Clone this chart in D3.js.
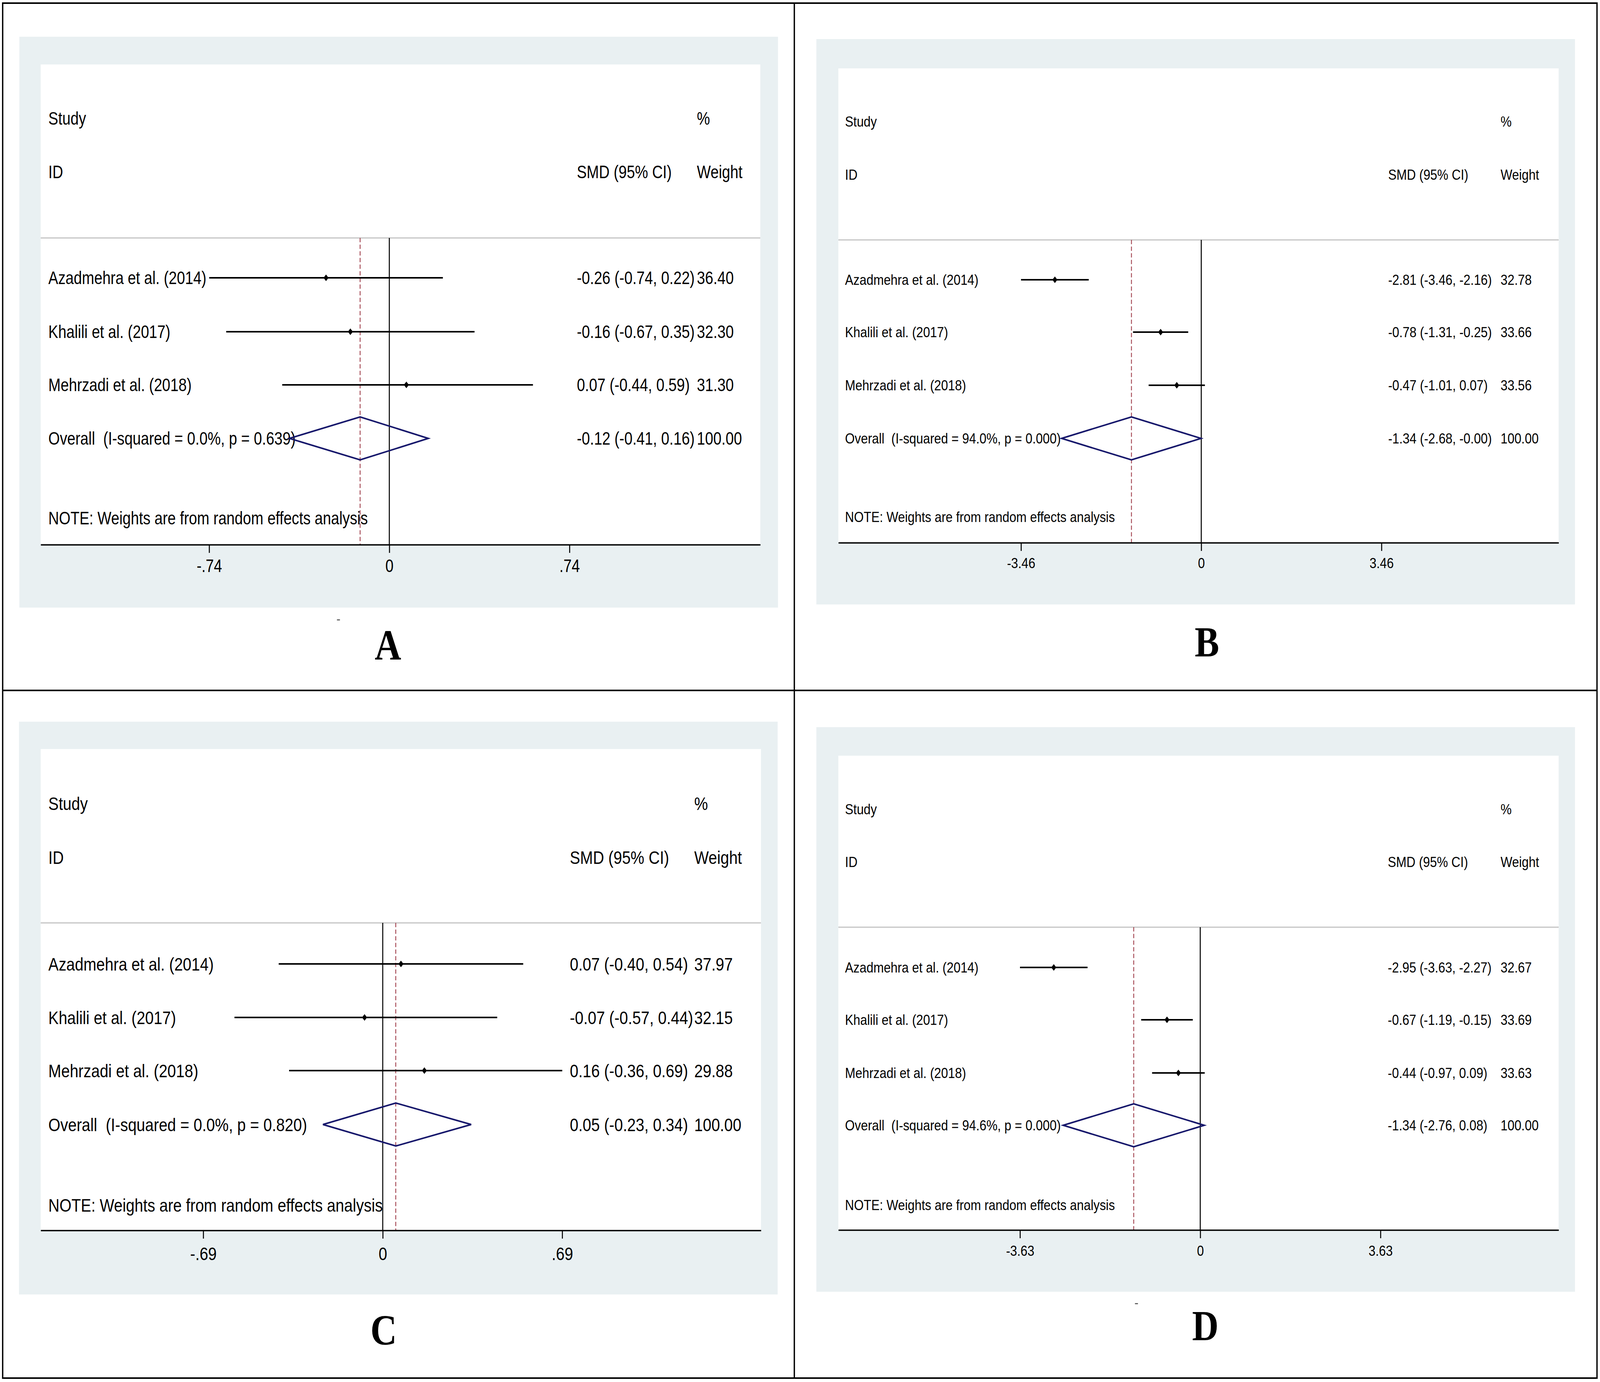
<!DOCTYPE html>
<html>
<head>
<meta charset="utf-8">
<script src="https://cdn.jsdelivr.net/npm/d3@7"></script>
<style>
  html, body { margin: 0; padding: 0; background: #ffffff; width: 100%; height: 100%; overflow: hidden; }
  svg { display: block; width: 100vw; height: 100vh; }
  text { font-family: "Liberation Sans", Arial, sans-serif; fill: #000; white-space: pre; }
</style>
</head>
<body>
<script>
// ---------------- DATA ----------------
const studies = ["Azadmehra et al. (2014)", "Khalili et al. (2017)", "Mehrzadi et al. (2018)"];
const panelLetters = ["A", "B", "C", "D"];

const smdA = [-0.26, -0.16, 0.07];
const loA  = [-0.74, -0.67, -0.44];
const hiA  = [0.22, 0.35, 0.59];
const wtA  = [36.40, 32.30, 31.30];
const overallA = [-0.12, -0.41, 0.16];
const i2A = 0.0, pA = 0.639;
const tickValsA = [-0.74, 0, 0.74];
const tickLabsA = ["-.74", "0", ".74"];

const smdB = [-2.81, -0.78, -0.47];
const loB  = [-3.46, -1.31, -1.01];
const hiB  = [-2.16, -0.25, 0.07];
const wtB  = [32.78, 33.66, 33.56];
const overallB = [-1.34, -2.68, -0.004];
const i2B = 94.0, pB = 0.000;
const tickValsB = [-3.46, 0, 3.46];
const tickLabsB = ["-3.46", "0", "3.46"];

const smdC = [0.07, -0.07, 0.16];
const loC  = [-0.40, -0.57, -0.36];
const hiC  = [0.54, 0.44, 0.69];
const wtC  = [37.97, 32.15, 29.88];
const overallC = [0.05, -0.23, 0.34];
const i2C = 0.0, pC = 0.820;
const tickValsC = [-0.69, 0, 0.69];
const tickLabsC = ["-.69", "0", ".69"];

const smdD = [-2.95, -0.67, -0.44];
const loD  = [-3.63, -1.19, -0.97];
const hiD  = [-2.27, -0.15, 0.09];
const wtD  = [32.67, 33.69, 33.63];
const overallD = [-1.34, -2.76, 0.08];
const i2D = 94.6, pD = 0.000;
const tickValsD = [-3.63, 0, 3.63];
const tickLabsD = ["-3.63", "0", "3.63"];

const headers = { study: "Study", id: "ID", smd: "SMD (95% CI)", pct: "%", weight: "Weight" };
const noteText = "NOTE: Weights are from random effects analysis";

// ---------------- LAYOUT ----------------
const W = 4796, H = 3537;
const layout = [
  { gx0: 58, gy0: 94, gx1: 2332, gy1: 1555, wx0: 122, wy0: 165, wx1: 2279, axisY: 1394, hdrY: 609,
    yStudy: 303, yID: 440, rowY: [711, 849, 985, 1122], yNote: 1326, yTick: 1448,
    textX: 145, smdX: 1729, wX: 2089, fs: 46, sx: 0.96, r0: 627, r1: 1707,
    letterX: 1163, letterY: 1688, mark: [1010, 1585] },
  { gx0: 2447, gy0: 100, gx1: 4721, gy1: 1547, wx0: 2513, wy0: 175, wx1: 4672, axisY: 1389, hdrY: 614,
    yStudy: 311, yID: 447, rowY: [716, 850, 986, 1122], yNote: 1323, yTick: 1441,
    textX: 2533, smdX: 4161, wX: 4498, fs: 37.3, sx: 1.0, r0: 3060.5, r1: 4141,
    letterX: 3618, letterY: 1680, mark: null },
  { gx0: 57, gy0: 1847, gx1: 2331, gy1: 3313, wx0: 122, wy0: 1917, wx1: 2281, axisY: 3149, hdrY: 2362,
    yStudy: 2056, yID: 2194, rowY: [2467, 2604, 2740, 2878], yNote: 3084, yTick: 3208,
    textX: 145, smdX: 1708, wX: 2081, fs: 46.2, sx: 1.0, r0: 609.3, r1: 1685.3,
    letterX: 1150, letterY: 3441, mark: null },
  { gx0: 2447, gy0: 1861, gx1: 4721, gy1: 3306, wx0: 2513, wy0: 1934, wx1: 4672, axisY: 3148, hdrY: 2373,
    yStudy: 2071, yID: 2206, rowY: [2476, 2610, 2746, 2880], yNote: 3084, yTick: 3201,
    textX: 2533, smdX: 4160, wX: 4498, fs: 37.3, sx: 1.0, r0: 3057.5, r1: 4138,
    letterX: 3613, letterY: 3430, mark: [3402, 3335] }
];

const datasets = [
  { smd: smdA, lo: loA, hi: hiA, wt: wtA, ov: overallA, i2: i2A, p: pA, tv: tickValsA, tl: tickLabsA },
  { smd: smdB, lo: loB, hi: hiB, wt: wtB, ov: overallB, i2: i2B, p: pB, tv: tickValsB, tl: tickLabsB },
  { smd: smdC, lo: loC, hi: hiC, wt: wtC, ov: overallC, i2: i2C, p: pC, tv: tickValsC, tl: tickLabsC },
  { smd: smdD, lo: loD, hi: hiD, wt: wtD, ov: overallD, i2: i2D, p: pD, tv: tickValsD, tl: tickLabsD }
];

const GRAY = "#e9f0f2";
const NAVY = "#16176b";
const RED = "#9e3b48";

const svg = d3.select("body").append("svg")
  .attr("viewBox", `0 0 ${W} ${H}`)
  .attr("preserveAspectRatio", "none");

svg.append("rect").attr("x", 0).attr("y", 0).attr("width", W).attr("height", H).attr("fill", "#fff");

const f2 = v => v.toFixed(2);

datasets.forEach((d, i) => {
  const L = layout[i];
  const g = svg.append("g");
  const capOff = 0.358 * L.fs;

  // backgrounds
  g.append("rect").attr("x", L.gx0).attr("y", L.gy0).attr("width", L.gx1 - L.gx0).attr("height", L.gy1 - L.gy0).attr("fill", GRAY);
  g.append("rect").attr("x", L.wx0).attr("y", L.wy0).attr("width", L.wx1 - L.wx0).attr("height", L.axisY - L.wy0).attr("fill", "#fff");

  // scales
  const x = d3.scaleLinear().domain([d.tv[0], d.tv[2]]).range([L.r0, L.r1]);
  const xAxisScale = x.copy().domain([x.invert(L.wx0), x.invert(L.wx1)]).range([L.wx0, L.wx1]);

  // header separator
  g.append("line").attr("x1", L.wx0).attr("x2", L.wx1).attr("y1", L.hdrY).attr("y2", L.hdrY)
    .attr("stroke", "#c4c4c4").attr("stroke-width", 3);

  const txt = (s, tx, ty, anchor) => g.append("text")
    .attr("transform", `translate(${tx},${ty + capOff}) scale(${L.sx},1)`)
    .attr("font-size", L.fs).attr("text-anchor", anchor || "start").text(s);

  // headers
  txt(headers.study, L.textX, L.yStudy);
  txt(headers.pct, L.wX, L.yStudy);
  txt(headers.id, L.textX, L.yID);
  txt(headers.smd, L.smdX, L.yID);
  txt(headers.weight, L.wX, L.yID);

  // rows text
  studies.forEach((s, k) => {
    txt(s, L.textX, L.rowY[k]);
    txt(`${f2(d.smd[k])} (${f2(d.lo[k])}, ${f2(d.hi[k])})`, L.smdX, L.rowY[k]);
    txt(f2(d.wt[k]), L.wX, L.rowY[k]);
  });
  txt(`Overall  (I-squared = ${d.i2.toFixed(1)}%, p = ${d.p.toFixed(3)})`, L.textX, L.rowY[3]);
  txt(`${f2(d.ov[0])} (${f2(d.ov[1])}, ${f2(d.ov[2])})`, L.smdX, L.rowY[3]);
  txt(f2(100), L.wX, L.rowY[3]);
  txt(noteText, L.textX, L.yNote);

  // zero line
  g.append("line").attr("x1", x(0)).attr("x2", x(0)).attr("y1", L.hdrY).attr("y2", L.axisY)
    .attr("stroke", "#000").attr("stroke-width", 3);
  // overall dashed line
  g.append("line").attr("x1", x(d.ov[0])).attr("x2", x(d.ov[0])).attr("y1", L.hdrY).attr("y2", L.axisY)
    .attr("stroke", RED).attr("stroke-width", 2.5).attr("stroke-dasharray", "11,6");

  // CIs and point markers
  studies.forEach((s, k) => {
    const y = L.rowY[k];
    g.append("line").attr("x1", x(d.lo[k])).attr("x2", x(d.hi[k])).attr("y1", y).attr("y2", y)
      .attr("stroke", "#000").attr("stroke-width", 4);
    const cx = x(d.smd[k]);
    g.append("path").attr("d", `M${cx},${y - 8.5} L${cx + 7.5},${y} L${cx},${y + 8.5} L${cx - 7.5},${y} Z`)
      .attr("fill", "#000");
  });

  // overall diamond
  const yo = L.rowY[3], hh = 55;
  g.append("path")
    .attr("d", `M${x(d.ov[1])},${yo} L${x(d.ov[0])},${yo - hh} L${x(d.ov[2])},${yo} L${x(d.ov[0])},${yo + hh} Z`)
    .attr("fill", "none").attr("stroke", NAVY).attr("stroke-width", 4).attr("stroke-linejoin", "miter");

  // axis
  const axis = d3.axisBottom(xAxisScale).tickValues(d.tv).tickFormat((v, j) => d.tl[j])
    .tickSize(21).tickSizeOuter(0);
  const ag = g.append("g").attr("transform", `translate(0,${L.axisY})`).call(axis);
  ag.select(".domain").attr("stroke", "#000").attr("stroke-width", 3.5);
  ag.selectAll(".tick line").attr("stroke", "#000").attr("stroke-width", 3);
  ag.selectAll(".tick text")
    .attr("font-family", '"Liberation Sans", Arial, sans-serif')
    .attr("font-size", L.fs).attr("fill", "#000")
    .attr("dy", null)
    .attr("y", L.yTick - L.axisY + capOff)
    .attr("transform", `scale(${L.sx},1)`)
    .attr("x", 0);

  // small stray mark
  if (L.mark) {
    g.append("rect").attr("x", L.mark[0]).attr("y", L.mark[1]).attr("width", 9).attr("height", 3).attr("fill", "#666");
  }

  // panel letter
  svg.append("text").attr("x", L.letterX).attr("y", L.letterY)
    .attr("text-anchor", "middle")
    .style("font-family", '"Liberation Serif", "Times New Roman", serif')
    .attr("font-weight", "bold").attr("font-size", 110)
    .text(panelLetters[i]);
});

// frame grid
const frame = svg.append("g").attr("stroke", "#000").attr("stroke-width", 4).attr("fill", "none");
frame.append("rect").attr("x", 8).attr("y", 8).attr("width", 4787 - 8).attr("height", 3527 - 8);
frame.append("line").attr("x1", 2381).attr("x2", 2381).attr("y1", 8).attr("y2", 3527);
frame.append("line").attr("x1", 8).attr("x2", 4787).attr("y1", 1767).attr("y2", 1767);
</script>
</body>
</html>
